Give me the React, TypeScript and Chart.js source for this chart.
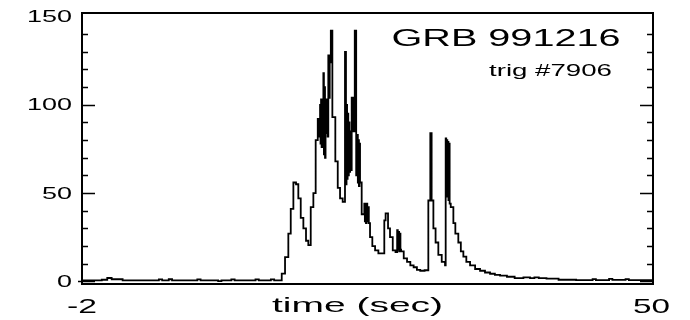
import React, { useEffect, useRef } from "react";
import { Chart, registerables } from "chart.js";

Chart.register(...registerables);

// Light curve: bin start times (sec) and counts
const times = [
  -2.0, -0.2, 0.3, 0.7, 1.7, 5.0, 5.3, 5.9, 6.2, 8.5, 8.8, 10.4, 10.7, 11.6, 11.9, 13.8, 14.1, 15.2, 15.5,
  16.19, 16.49, 16.79, 17.01, 17.25, 17.49, 17.7, 17.92, 18.16, 18.4, 18.61, 18.83, 19.07, 19.28,
  19.47, 19.52, 19.57, 19.62, 19.68, 19.72, 19.77, 19.82, 19.87, 19.92, 19.98, 20.03, 20.08, 20.13, 20.18,
  20.22, 20.27, 20.32, 20.37, 20.43, 20.5, 20.56, 20.66, 20.8, 21.07, 21.29, 21.5, 21.74,
  21.95, 22.04, 22.09, 22.14, 22.19, 22.25, 22.3, 22.36, 22.42, 22.48, 22.56, 22.7, 22.84,
  22.97, 23.07, 23.12, 23.17, 23.22, 23.27, 23.32, 23.47, 23.71, 23.76, 23.81, 23.86, 23.92, 23.98, 24.05, 24.12,
  24.23, 24.44, 24.69, 24.99, 25.53, 25.65, 25.87, 26.05, 26.3, 26.55, 26.7, 26.76, 26.82, 26.88, 26.94, 27.0,
  27.06, 27.3, 27.6, 27.9, 28.2, 28.5, 28.8, 29.2, 29.54, 29.72, 29.84, 30.0, 30.2, 30.45, 30.76, 31.06,
  31.12, 31.17, 31.22, 31.27, 31.32, 31.37, 31.42, 31.48, 31.58, 31.82, 32.0, 32.27, 32.5, 32.73, 33.0, 33.34,
  33.8, 34.25, 34.7, 35.16, 35.6, 36.07, 36.7, 37.4, 38.2, 38.8, 39.2, 39.6, 40.3, 41.4, 43.0, 44.5, 44.8,
  46.0, 46.3, 47.5, 47.8, 50.0,
];
const counts = [
  0.6, 0.9, 1.9, 1.2, 0.6, 1.1, 0.6, 1.2, 0.6, 1.1, 0.6, 0.1, 0.6, 1.1, 0.6, 1.1, 0.6, 1.1, 0.6,
  4.4, 13.7, 27, 41, 56, 55, 47, 36, 30, 23, 20.5, 42, 50, 80,
  92, 82, 90, 84, 100, 78, 103, 76, 96, 80, 118, 72, 110, 70, 95,
  103, 84, 100, 82, 128, 104, 124, 142, 93, 68, 53, 47, 45,
  130, 55, 100, 58, 95, 60, 90, 62, 85, 63, 104, 85, 142,
  60, 83, 56, 80, 54, 78, 56, 38, 44, 34, 43, 33, 44, 34, 42, 33,
  25, 20, 17.5, 15.8, 34.5, 38.5, 30, 25, 17.5, 16.5, 29, 18, 28, 17, 27, 18,
  17, 13, 11, 9, 8, 6.5, 6, 6.3, 45.8, 84, 45.8, 30, 22, 15, 11, 9,
  81, 50, 80, 48, 79, 46, 78, 44, 42, 33, 27, 22, 17, 14, 11, 9,
  7, 6, 5, 4.3, 3.7, 3.2, 2.6, 1.8, 2.3, 1.8, 2.2, 1.8, 1.6, 0.9, 0.7, 1.3, 0.7,
  1.4, 0.8, 1.3, 0.7, 0.7,
];

const yMajorTicks = [0, 50, 100, 150];
const yMinorTicks = [10, 20, 30, 40, 60, 70, 80, 90, 110, 120, 130, 140];
const xTickValues = [-2, 50];
const xTickLabels = ["-2", "50"];
const xTitle = "time (sec)";
const burstName = "GRB 991216";
const triggerLabel = "trig #7906";

const FONT = '"Liberation Sans", Arial, Helvetica, sans-serif';

function drawStretched(
  ctx: CanvasRenderingContext2D,
  text: string,
  size: number,
  x: number,
  y: number,
  width: number,
  align: "left" | "center" | "right",
  baseline: CanvasTextBaseline = "alphabetic"
) {
  ctx.save();
  ctx.font = `${size}px ${FONT}`;
  ctx.textBaseline = baseline;
  ctx.textAlign = "left";
  const w = ctx.measureText(text).width;
  const sx = width / w;
  let left = x;
  if (align === "center") left = x - width / 2;
  if (align === "right") left = x - width;
  ctx.translate(left, y);
  ctx.scale(sx, 1);
  ctx.fillStyle = "#000";
  ctx.fillText(text, 0, 0);
  ctx.restore();
}

const framePlugin = {
  id: "frame",
  afterDraw(chart: any) {
    const { ctx, chartArea: a, scales } = chart;
    const xs = scales.x;
    const ys = scales.y;
    ctx.save();
    ctx.strokeStyle = "#000";
    ctx.lineWidth = 2;
    ctx.strokeRect(a.left, a.top, a.right - a.left, a.bottom - a.top);
    ctx.lineWidth = 1.5;
    ctx.beginPath();
    for (const v of yMinorTicks) {
      const py = Math.round(ys.getPixelForValue(v)) + 0.5;
      ctx.moveTo(a.left, py);
      ctx.lineTo(a.left + 6, py);
      ctx.moveTo(a.right, py);
      ctx.lineTo(a.right - 6, py);
    }
    for (const v of yMajorTicks) {
      if (v >= 150) continue;
      const py = Math.round(ys.getPixelForValue(v)) + 0.5;
      ctx.moveTo(v === 0 ? a.left - 4 : a.left, py);
      ctx.lineTo(a.left + 13, py);
      ctx.moveTo(a.right, py);
      ctx.lineTo(a.right - 13, py);
    }
    ctx.stroke();
    ctx.restore();

    // y tick labels
    const digitW = 15;
    for (const v of yMajorTicks) {
      const s = String(v);
      drawStretched(ctx, s, 16.5, a.left - 10, ys.getPixelForValue(v) + 1, digitW * s.length, "right", "middle");
    }
    // x tick labels
    xTickValues.forEach((v, i) => {
      const s = xTickLabels[i];
      drawStretched(ctx, s, 21, xs.getPixelForValue(v) - (v === 50 ? 1.5 : 0), 313, s.length * 15 + (v === 50 ? 7 : 0), "center");
    });
    drawStretched(ctx, xTitle, 21, 272, 312, 171, "left");
    drawStretched(ctx, burstName, 23.5, 391.5, 46, 229, "left");
    drawStretched(ctx, triggerLabel, 16.3, 489, 76, 123, "left");
  },
};

export default function App() {
  const ref = useRef<HTMLCanvasElement | null>(null);
  useEffect(() => {
    if (!ref.current) return;
    const data = times.map((t, i) => ({ x: t, y: counts[i] }));
    const chart = new Chart(ref.current, {
      type: "line",
      data: {
        datasets: [
          {
            data,
            stepped: true,
            borderColor: "#000",
            borderWidth: 1.8,
            pointRadius: 0,
            fill: false,
          },
        ],
      },
      options: {
        animation: false,
        responsive: false,
        events: [],
        layout: { padding: { left: 82, right: 37, top: 13, bottom: 36 } },
        plugins: { legend: { display: false }, tooltip: { enabled: false } },
        scales: {
          x: { type: "linear", min: -2, max: 50, display: false },
          y: { type: "linear", min: -1.5, max: 152, display: false },
        },
      },
      plugins: [framePlugin],
    });
    return () => chart.destroy();
  }, []);
  return (
    <canvas
      ref={ref}
      width={690}
      height={320}
      style={{ position: "fixed", left: 0, top: 0, width: 690, height: 320, background: "#fff" }}
    />
  );
}
